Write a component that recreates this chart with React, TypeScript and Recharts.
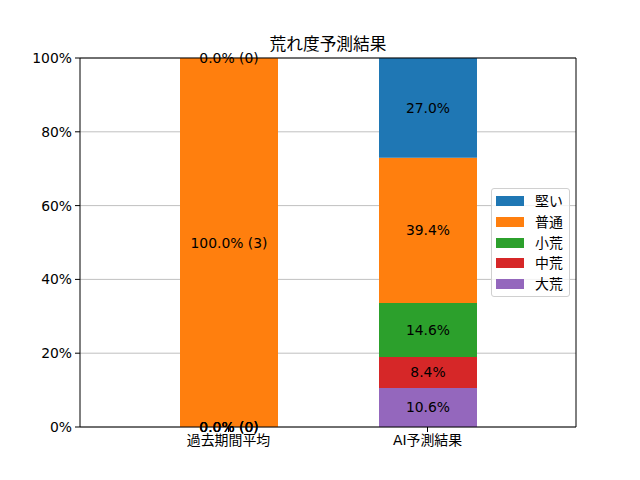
import React from 'react';
import { BarChart, Bar, XAxis, YAxis, CartesianGrid, LabelList } from 'recharts';

const categories = ['過去期間平均', 'AI予測結果'];
const seriesNames = ['大荒', '中荒', '小荒', '普通', '堅い'];
const seriesColors = ['#9467bd', '#d62728', '#2ca02c', '#ff7f0e', '#1f77b4'];
const daiValues = [0, 10.6];
const chuuValues = [0, 8.4];
const shouValues = [0, 14.6];
const futsuuValues = [100, 39.4];
const kataiValues = [0, 27.0];
const pastCounts = [0, 0, 0, 3, 0];
const yTicks = [0, 20, 40, 60, 80, 100];

const seriesValues = [daiValues, chuuValues, shouValues, futsuuValues, kataiValues];

const data = categories.map((name, i) => {
  const row: any = { name };
  seriesNames.forEach((s, k) => {
    const v = seriesValues[k][i];
    row[s] = v;
    row['L' + s] = i === 0 ? `${v.toFixed(1)}% (${pastCounts[k]})` : `${v.toFixed(1)}%`;
  });
  return row;
});

const FONT = '"DejaVu Sans", "Noto Sans CJK JP", sans-serif';

const renderLabel = (props: any) => {
  const vb = props.viewBox || {};
  const x = props.x ?? vb.x;
  const y = props.y ?? vb.y;
  const w = props.width ?? vb.width ?? 0;
  const h = props.height ?? vb.height ?? 0;
  if (x == null || y == null) return null;
  return (
    <text
      x={x + w / 2}
      y={y + h / 2}
      textAnchor="middle"
      dominantBaseline="central"
      fill="#000"
      fontSize={13.9}
      fontFamily={FONT}
    >
      {props.value}
    </text>
  );
};

function LegendBox() {
  const items = seriesNames.map((n, k) => ({ n, c: seriesColors[k] })).reverse();
  return (
    <div
      style={{
        position: 'absolute',
        left: 491,
        top: 188,
        width: 77,
        height: 107,
        border: '1px solid #d0d0d0',
        borderRadius: 3,
        background: 'rgba(255,255,255,0.8)',
        fontFamily: FONT,
        fontSize: 13.9,
      }}
    >
      {items.map((it, idx) => (
        <div key={it.n} style={{ position: 'absolute', left: 0, top: 2 + idx * 20.8, height: 20, width: 77 }}>
          <div style={{ position: 'absolute', left: 4, top: 5, width: 28, height: 10, background: it.c }} />
          <div style={{ position: 'absolute', left: 43, top: 0, lineHeight: '20px', color: '#000' }}>{it.n}</div>
        </div>
      ))}
    </div>
  );
}

export default function App() {
  return (
    <div style={{ position: 'absolute', left: 0, top: 0, width: 640, height: 480, background: '#fff' }}>
      <div
        style={{
          position: 'absolute',
          left: 80,
          width: 496,
          top: 33,
          textAlign: 'center',
          fontFamily: FONT,
          fontSize: 16.7,
          lineHeight: '22px',
          color: '#000',
        }}
      >
        荒れ度予測結果
      </div>
      <BarChart
        width={640}
        height={480}
        data={data}
        margin={{ top: 57, right: 63, bottom: 23, left: 20 }}
        barSize={98}
        barCategoryGap={0}
      >
        <CartesianGrid vertical={false} stroke="#b0b0b0" strokeWidth={0.8} />
        <XAxis
          dataKey="name"
          padding={{ left: 49, right: 49 }}
          height={30}
          tickSize={5}
          tickMargin={3}
          axisLine={{ stroke: '#000', strokeWidth: 1 }}
          tickLine={{ stroke: '#000' }}
          tick={{ fill: '#000', fontSize: 13.9, fontFamily: FONT }}
        />
        <XAxis
          xAxisId="top"
          dataKey="name"
          orientation="top"
          height={1}
          padding={{ left: 49, right: 49 }}
          tick={false}
          tickLine={false}
          axisLine={{ stroke: '#000', strokeWidth: 1 }}
        />
        <YAxis
          domain={[0, 100]}
          ticks={yTicks}
          width={60}
          tickSize={5}
          tickMargin={3}
          interval={0}
          tickFormatter={(v: number) => `${v}%`}
          axisLine={{ stroke: '#000', strokeWidth: 1 }}
          tickLine={{ stroke: '#000' }}
          tick={{ fill: '#000', fontSize: 13.9, fontFamily: FONT }}
        />
        <YAxis
          yAxisId="right"
          orientation="right"
          domain={[0, 100]}
          width={1}
          tick={false}
          tickLine={false}
          axisLine={{ stroke: '#000', strokeWidth: 1 }}
        />
        {seriesNames.map((s, k) => (
          <Bar key={s} dataKey={s} stackId="a" fill={seriesColors[k]} minPointSize={0.01} isAnimationActive={false}>
            <LabelList dataKey={'L' + s} content={renderLabel} />
          </Bar>
        ))}
      </BarChart>
      <LegendBox />
    </div>
  );
}
